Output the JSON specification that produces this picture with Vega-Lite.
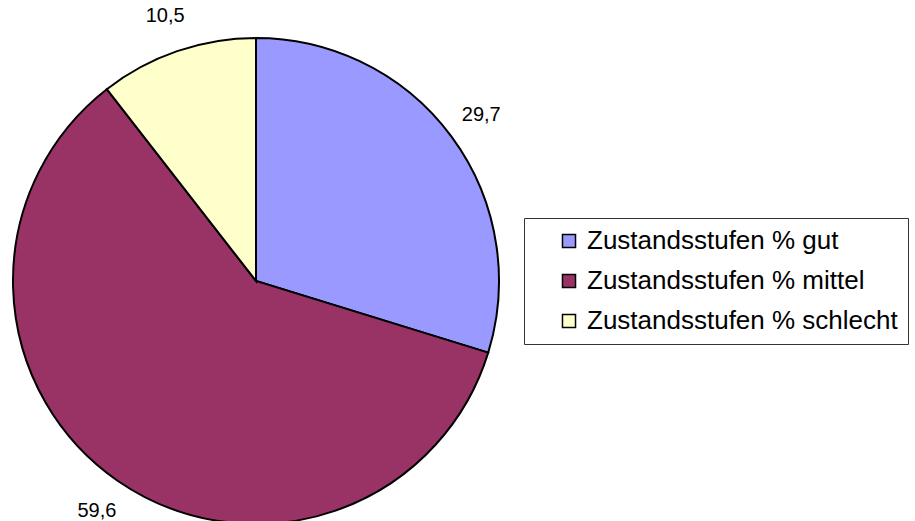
{
  "$schema": "https://vega.github.io/schema/vega-lite/v6.json",
  "autosize": "none",
  "width": 512,
  "height": 562,
  "padding": {"left": 0, "top": 0, "right": 403, "bottom": 0},
  "background": "white",
  "config": {"view": {"stroke": null}},
  "data": {
    "values": [
      {"Zustand": "Zustandsstufen % gut", "Wert": 29.7, "Text": "29,7"},
      {"Zustand": "Zustandsstufen % mittel", "Wert": 59.6, "Text": "59,6"},
      {"Zustand": "Zustandsstufen % schlecht", "Wert": 10.5, "Text": "10,5"}
    ]
  },
  "encoding": {
    "theta": {"field": "Wert", "type": "quantitative", "stack": true},
    "order": {"field": "Zustand", "sort": "ascending"}
  },
  "layer": [
    {
      "mark": {"type": "arc", "outerRadius": 243, "stroke": "black", "strokeWidth": 2},
      "encoding": {
        "color": {
          "field": "Zustand",
          "type": "nominal",
          "sort": ["Zustandsstufen % gut", "Zustandsstufen % mittel", "Zustandsstufen % schlecht"],
          "scale": {
            "domain": ["Zustandsstufen % gut", "Zustandsstufen % mittel", "Zustandsstufen % schlecht"],
            "range": ["#9999FF", "#993366", "#FFFFCC"]
          },
          "legend": {
            "title": null,
            "orient": "none",
            "legendX": 524,
            "legendY": 218,
            "padding": 10,
            "strokeColor": "#333333",
            "fillColor": "white",
            "symbolType": "square",
            "symbolSize": 170,
            "symbolStrokeColor": "black",
            "symbolStrokeWidth": 1.5,
            "symbolOffset": 22,
            "labelFont": "Liberation Sans",
            "labelFontSize": 26,
            "labelColor": "black",
            "labelOffset": 5,
            "labelLimit": 400,
            "rowPadding": 14
          }
        }
      }
    },
    {
      "mark": {"type": "text", "radius": 280, "font": "Liberation Sans", "fontSize": 20, "color": "black", "align": "center", "baseline": "middle"},
      "encoding": {
        "text": {"field": "Text", "type": "nominal"}
      }
    }
  ]
}
